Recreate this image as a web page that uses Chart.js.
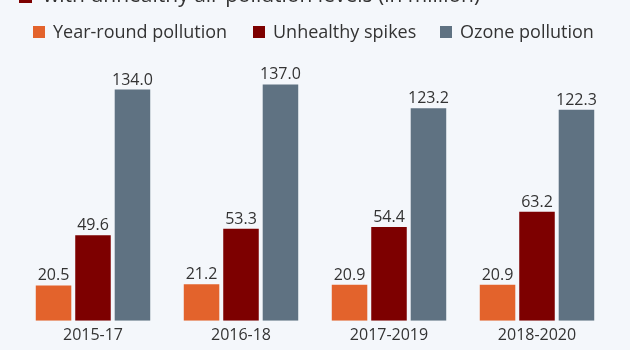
<!DOCTYPE html>
<html><head><meta charset="utf-8">
<script src="https://cdn.jsdelivr.net/npm/chart.js@4.4.0/dist/chart.umd.min.js"></script>
<style>html,body{margin:0;padding:0;background:#f4f7fb;}#wrap{width:630px;height:350px;position:relative;}</style>
</head><body><div id="wrap"><canvas id="c" width="630" height="350"></canvas></div>
<script>
const categories = ["2015-17", "2016-18", "2017-2019", "2018-2020"];
const yearRound = [20.5, 21.2, 20.9, 20.9];
const spikes = [49.6, 53.3, 54.4, 63.2];
const ozone = [134.0, 137.0, 123.2, 122.3];
const seriesNames = ["Year-round pollution", "Unhealthy spikes", "Ozone pollution"];
const titleText = "with unhealthy air pollution levels (in million)";

const FONT = "'Open Sans', sans-serif";
const legendX = [33, 253, 440];

const valueLabels = {
  id: 'valueLabels',
  afterDatasetsDraw(chart) {
    const ctx = chart.ctx;
    ctx.save();
    ctx.font = "16px " + FONT;
    ctx.fillStyle = "#333";
    ctx.textAlign = "center";
    ctx.textBaseline = "alphabetic";
    chart.data.datasets.forEach((ds, i) => {
      chart.getDatasetMeta(i).data.forEach((bar, j) => {
        ctx.fillText(ds.data[j].toFixed(1), bar.x, bar.y - 5);
      });
    });
    ctx.restore();
  }
};
const topParts = {
  id: 'topParts',
  beforeDraw(chart) {
    const ctx = chart.ctx;
    ctx.save();
    ctx.fillStyle = "#f4f7fb";
    ctx.fillRect(0, 0, chart.width, chart.height);
    ctx.fillStyle = "#7d0000";
    ctx.fillRect(19, -9, 13, 12);
    ctx.font = "21px " + FONT;
    ctx.fillStyle = "#333";
    ctx.textBaseline = "alphabetic";
    ctx.fillText(titleText, 43, 2);
    // legend
    ctx.font = "18px " + FONT;
    chart.data.datasets.forEach((ds, i) => {
      ctx.fillStyle = ds.backgroundColor;
      ctx.fillRect(legendX[i], 26, 12, 12);
      ctx.fillStyle = "#333";
      ctx.fillText(ds.label, legendX[i] + 20, 38);
    });
    ctx.restore();
  }
};

new Chart(document.getElementById('c'), {
  type: 'bar',
  data: {
    labels: categories,
    datasets: [
      {label: seriesNames[0], data: yearRound, backgroundColor: "#e3632c"},
      {label: seriesNames[1], data: spikes, backgroundColor: "#7d0000"},
      {label: seriesNames[2], data: ozone, backgroundColor: "#5f7282"}
    ]
  },
  options: {
    responsive: false,
    animation: false,
    devicePixelRatio: 1,
    layout: {padding: {left: 19, right: 19, top: 62, bottom: 0}},
    datasets: {bar: {categoryPercentage: 0.8, barPercentage: 0.9}},
    plugins: {
      legend: {display: false},
      tooltip: {enabled: false}
    },
    scales: {
      x: {grid: {display: false, drawTicks: false}, border: {display: false}, ticks: {color: "#333", font: {family: FONT, size: 16}, padding: 5}},
      y: {display: false, min: 0, max: 150}
    }
  },
  plugins: [topParts, valueLabels]
});
</script></body></html>
